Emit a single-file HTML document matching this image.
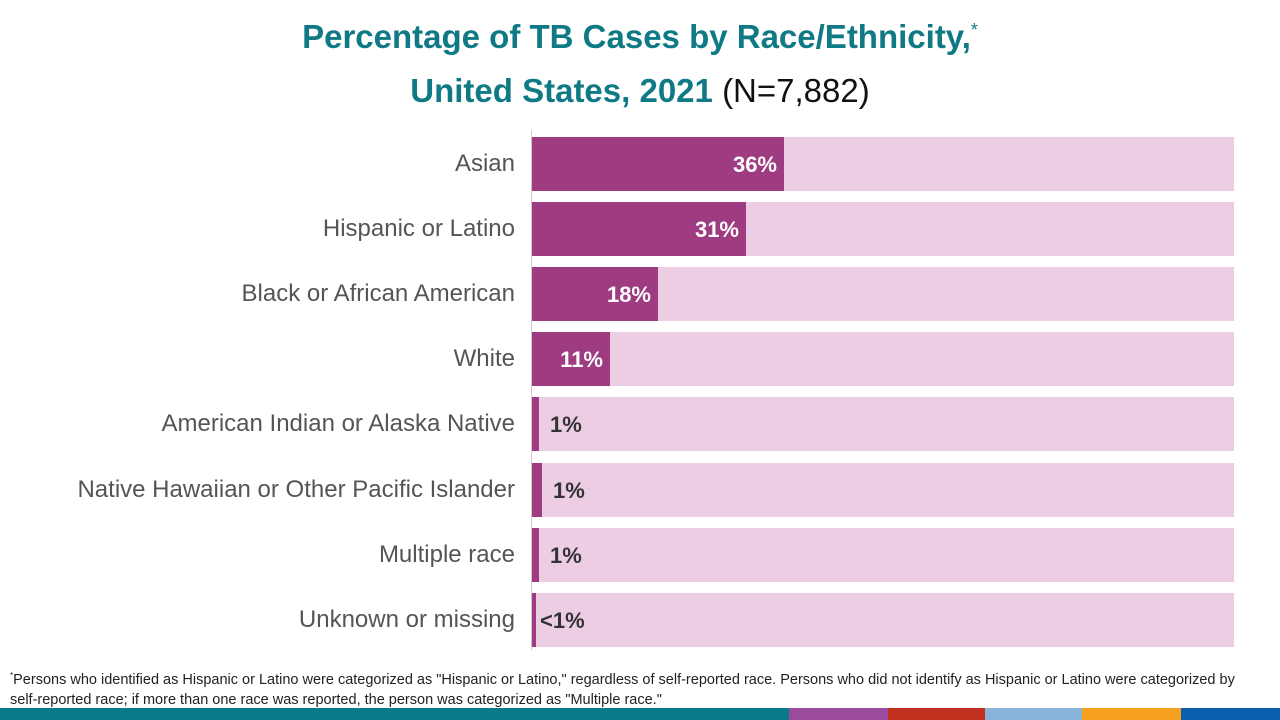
<!DOCTYPE html>
<html><head><meta charset="utf-8"><style>
body{margin:0;width:1280px;height:720px;background:#fff;position:relative;overflow:hidden;font-family:"Liberation Sans",Carlito,sans-serif}
.t{position:absolute;left:0;width:1280px;text-align:center;color:#0f7a85;font-weight:bold;font-size:33px}
.lab{position:absolute;right:765px;font-size:24px;color:#555;text-align:right;white-space:nowrap}
.bg{position:absolute;left:532px;width:702px;height:54px;background:#eccde3}
.fg{position:absolute;left:532px;height:54px;background:#9e3b81}
.v{position:absolute;font-size:22px;font-weight:bold;white-space:nowrap}
.fn{position:absolute;left:10px;top:666px;font-size:14.5px;color:#222;line-height:20px;width:1240px}
.seg{position:absolute;top:708px;height:12px}
</style></head><body>
<div class="t" style="top:18px">Percentage of TB Cases by Race/Ethnicity,<sup style="font-size:18px;font-weight:normal">*</sup></div>
<div class="t" style="top:72px">United States, 2021 <span style="color:#111;font-weight:normal">(N=7,882)</span></div>
<div style="position:absolute;left:531px;top:130px;width:1px;height:520px;background:#ccc"></div>
<div id="rows"></div>
<script>
var d=[["Asian",784,"36%"],["Hispanic or Latino",746,"31%"],["Black or African American",658,"18%"],["White",610,"11%"],["American Indian or Alaska Native",539,"1%"],["Native Hawaiian or Other Pacific Islander",542,"1%"],["Multiple race",539,"1%"],["Unknown or missing",536,"<1%"]];
var h="";d.forEach(function(r,i){var y=137+i*65.1;
h+='<div class="bg" style="top:'+y+'px"></div><div class="fg" style="top:'+y+'px;width:'+(r[1]-532)+'px"></div>';
h+='<div class="lab" style="top:'+(y+13)+'px">'+r[0]+'</div>';
if(i<4)h+='<div class="v" style="color:#fff;right:'+(1280-r[1]+7)+'px;top:'+(y+15)+'px">'+r[2]+'</div>';
else h+='<div class="v" style="color:#333;left:'+(r[1]+(i==7?4:11))+'px;top:'+(y+15)+'px">'+r[2].replace("<","&lt;")+'</div>';});
document.getElementById("rows").innerHTML=h;
</script>
<div class="fn"><sup style="font-size:8px">*</sup>Persons who identified as Hispanic or Latino were categorized as "Hispanic or Latino," regardless of self-reported race. Persons who did not identify as Hispanic or Latino were categorized by self-reported race; if more than one race was reported, the person was categorized as "Multiple race."</div>
<div class="seg" style="left:0;width:789px;background:#087b8a"></div>
<div class="seg" style="left:789px;width:99px;background:#9b4b9e"></div>
<div class="seg" style="left:888px;width:97px;background:#c0311f"></div>
<div class="seg" style="left:985px;width:97px;background:#8ab3d9"></div>
<div class="seg" style="left:1082px;width:99px;background:#f5a01f"></div>
<div class="seg" style="left:1181px;width:99px;background:#0a5fae"></div>
</body></html>
